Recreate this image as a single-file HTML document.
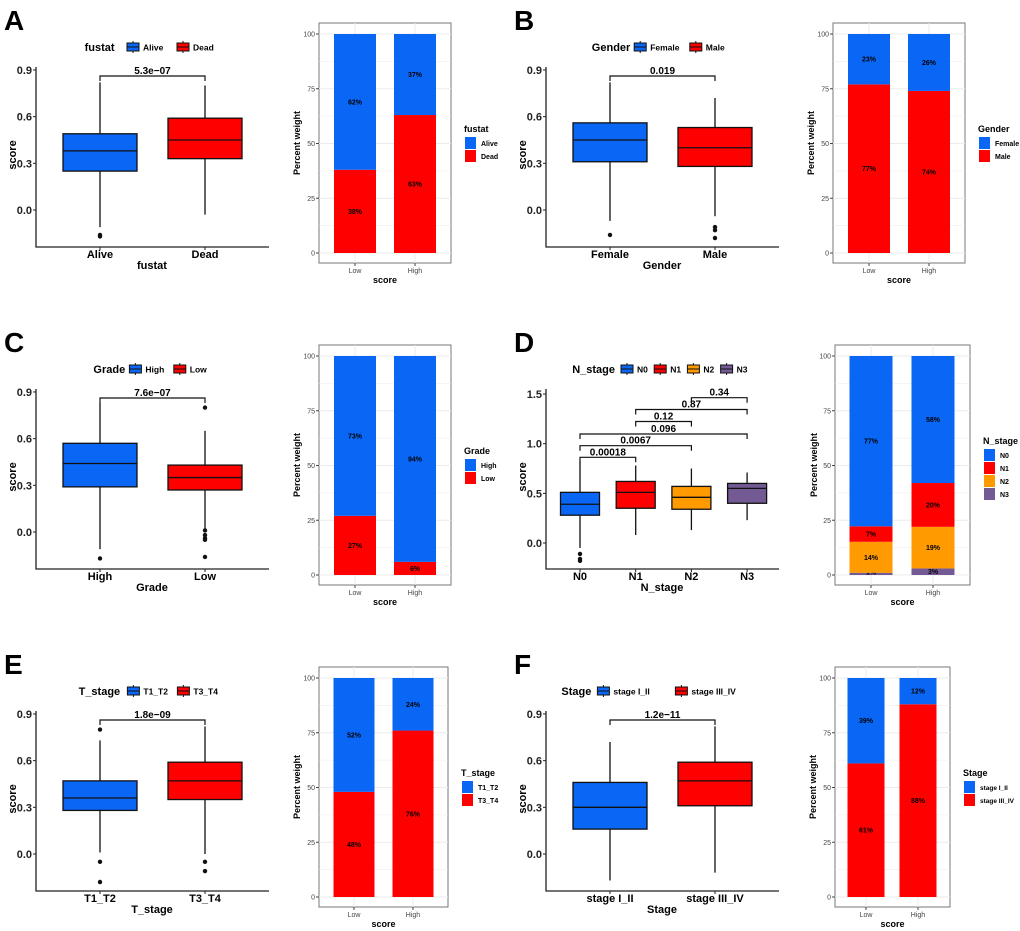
<!DOCTYPE html>
<html><head><meta charset="utf-8"><style>
body{margin:0;background:#fff;}
svg{display:block;font-family:"Liberation Sans",Arial,sans-serif;}
</style></head><body>
<svg id="fig" width="1020" height="931" viewBox="0 0 1020 931"></svg>
<script>
const panelLetters=["A","B","C","D","E","F"];
const varNames=["fustat","Gender","Grade","N_stage","T_stage","Stage"];
const groupNames=[["Alive","Dead"],["Female","Male"],["High","Low"],["N0","N1","N2","N3"],["T1_T2","T3_T4"],["stage I_II","stage III_IV"]];
// box stats: [whiskerLow, q1, median, q3, whiskerHigh]
const boxStats=[
 [[-0.11,0.25,0.38,0.49,0.82],[-0.03,0.33,0.45,0.59,0.80]],
 [[-0.07,0.31,0.45,0.56,0.82],[-0.04,0.28,0.40,0.53,0.72]],
 [[-0.11,0.29,0.44,0.57,0.83],[0.02,0.27,0.35,0.43,0.65]],
 [[-0.05,0.28,0.39,0.51,0.82],[0.08,0.35,0.51,0.62,0.78],[0.13,0.34,0.46,0.57,0.75],[0.23,0.40,0.55,0.60,0.71]],
 [[0.01,0.28,0.36,0.47,0.73],[0.00,0.35,0.47,0.59,0.82]],
 [[-0.17,0.16,0.30,0.46,0.72],[-0.12,0.31,0.47,0.59,0.82]]
];
const outliers=[
 [[-0.16,-0.17],[]],
 [[-0.16],[-0.11,-0.13,-0.18]],
 [[-0.17],[0.80,0.01,-0.02,-0.04,-0.05,-0.16]],
 [[-0.11,-0.16,-0.18],[],[],[]],
 [[0.80,-0.05,-0.18],[-0.05,-0.11]],
 [[],[]]
];
const pLabels=[["5.3e−07"],["0.019"],["7.6e−07"],["0.00018","0.0067","0.096","0.12","0.87","0.34"],["1.8e−09"],["1.2e−11"]];
const dPairs=[[0,1],[0,2],[0,3],[1,2],[1,3],[2,3]];
// stacked percentages, order = groupNames order (top of stack first)
const pctLow=[[62,38],[23,77],[73,27],[77,7,14,1],[52,48],[39,61]];
const pctHigh=[[37,63],[26,74],[94,6],[58,20,19,3],[24,76],[12,88]];
const boxTicks=[0,0.3,0.6,0.9];
const dTicks=[0,0.5,1.0,1.5];
const pctTicks=[0,25,50,75,100];
const barCats=["Low","High"];
const colors=["#0a66f5","#ff0000","#ff9a00","#735a95"];
// bar panel layout: [left,right,centerLow,centerHigh,barWidth,legendX,yTitleX]
const barLayout=[
 [319,451,355,415,42,464,297],
 [323,455,359,419,42,468,301],
 [319,451,355,415,42,464,297],
 [325,460,361,423,43,473,304],
 [319,448,354,413,41,461,297],
 [325,440,356,408,37,453,303]
];

const NS="http://www.w3.org/2000/svg";
const svg=document.getElementById('fig');
function el(tag,attrs,parent,text){const e=document.createElementNS(NS,tag);for(const k in attrs)e.setAttribute(k,attrs[k]);if(text!==undefined)e.textContent=text;(parent||svg).appendChild(e);return e;}
const origins=[[0,0],[510,0],[0,322],[510,322],[0,644],[510,644]];

for(let p=0;p<6;p++){
 const [ox,oy]=origins[p];
 const g=el('g',{transform:`translate(${ox},${oy})`});
 
 
 const t=el('text',{x:4,y:30,'font-size':28,'font-weight':'bold'},g,panelLetters[p]);
 
 const isD=p===3;
 const n=groupNames[p].length;
 // ---- box plot ----
 const bp=el('g',{},g);
 
 const y0=isD?221:210, k=isD?99.3:155.6;
 const Y=v=>y0-v*k;
 const cx=i=> isD?70+i*55.7:100+i*105;
 const bw=isD?39:74;
 el('line',{x1:36,y1:67,x2:36,y2:247.5,stroke:'#222','stroke-width':1.3},bp);
 el('line',{x1:35.5,y1:247,x2:269,y2:247,stroke:'#222','stroke-width':1.3},bp);
 const ticks=isD?dTicks:boxTicks;
 ticks.forEach(v=>{el('line',{x1:33,y1:Y(v),x2:36,y2:Y(v),stroke:'#222'},bp);
  const tl=el('text',{x:32,y:Y(v)+4,'font-size':11,'font-weight':'bold','text-anchor':'end',fill:'#222'},bp,v.toFixed(1));
  });
 const yt=el('text',{transform:'translate(16,155) rotate(-90)','font-size':11,'font-weight':'bold','text-anchor':'middle'},bp,'score');
 
 const xt=el('text',{x:152,y:269,'font-size':11,'font-weight':'bold','text-anchor':'middle'},bp,varNames[p]);
 
 for(let i=0;i<n;i++){
  const s=boxStats[p][i],x=cx(i);
  const bg=el('g',{},bp);
  
  
  el('line',{x1:x,y1:Y(s[0]),x2:x,y2:Y(s[4]),stroke:'#111','stroke-width':1.3},bg);
  el('rect',{x:x-bw/2,y:Y(s[3]),width:bw,height:Y(s[1])-Y(s[3]),fill:colors[i],stroke:'#111','stroke-width':1.3},bg);
  el('line',{x1:x-bw/2,y1:Y(s[2]),x2:x+bw/2,y2:Y(s[2]),stroke:'#111','stroke-width':1.3},bg);
  outliers[p][i].forEach(v=>el('circle',{cx:x,cy:Y(v),r:2.2,fill:'#111'},bg));
  el('line',{x1:x,y1:247,x2:x,y2:250,stroke:'#222'},bp);
  const xl=el('text',{x:x,y:258,'font-size':11,'font-weight':'bold','text-anchor':'middle'},bp,groupNames[p][i]);
  
 }
 const pairs=isD?dPairs:[[0,1]];
 const bys=isD?[135.3,123.7,112,99.5,87.5,75.7]:[76];
 pairs.forEach((pr,j)=>{
  const yb=bys[j],x1=cx(pr[0]),x2=cx(pr[1]);
  const sg=el('g',{},bp);
  
  el('path',{d:`M${x1},${yb+5}V${yb}H${x2}V${yb+5}`,fill:'none',stroke:'#111','stroke-width':1.2},sg);
  el('text',{x:(x1+x2)/2,y:yb-2,'font-size':10,'font-weight':'bold','text-anchor':'middle'},sg,pLabels[p][j]);
 });
 // legend
 const lg=el('g',{},bp);
 
 const tw=s=>s.length*(s===varNames[p]?6.4:5.6);
 let total=tw(varNames[p])+4;groupNames[p].forEach(s=>total+=16+tw(s)+6);
 let lx=153-total/2;
 el('text',{x:lx,y:51,'font-size':11,'font-weight':'bold'},lg,varNames[p]);lx+=tw(varNames[p])+4;
 groupNames[p].forEach((s,i)=>{
  el('line',{x1:lx+6,y1:41,x2:lx+6,y2:53,stroke:'#111'},lg);
  el('rect',{x:lx,y:43,width:12,height:8,fill:colors[i],stroke:'#111','stroke-width':1},lg);
  el('line',{x1:lx,y1:47,x2:lx+12,y2:47,stroke:'#111'},lg);
  lx+=16;
  el('text',{x:lx,y:50.5,'font-size':8.5,'font-weight':'bold'},lg,s);lx+=tw(s)+6;
 });
 // ---- stacked bar ----
 const [PL,PR,c0,c1,BW,LX,YTX]=barLayout[p];
 const bc=el('g',{},g);
 
 const PT=23,PB=263;
 const PY=v=>253-v*2.19;
 el('rect',{x:PL,y:PT,width:PR-PL,height:PB-PT,fill:'#fff',stroke:'#777','stroke-width':1},bc);
 for(let v=0;v<=100;v+=12.5)el('line',{x1:PL,y1:PY(v),x2:PR,y2:PY(v),stroke:'#ebebeb','stroke-width':(v%25===0)?1:0.6},bc);
 const bx=i=>i===0?c0:c1;
 barCats.forEach((c,i)=>el('line',{x1:bx(i),y1:PT,x2:bx(i),y2:PB,stroke:'#ebebeb'},bc));
 pctTicks.forEach(v=>{el('line',{x1:PL-3,y1:PY(v),x2:PL,y2:PY(v),stroke:'#444'},bc);
  el('text',{x:PL-4,y:PY(v)+2.5,'font-size':7,'text-anchor':'end',fill:'#444'},bc,String(v));});
 [pctLow[p],pctHigh[p]].forEach((arr,i)=>{
  const sum=arr.reduce((a,b)=>a+b,0);
  let cum=0;
  for(let j=arr.length-1;j>=0;j--){
   const v=arr[j]/sum*100;
   const r=el('rect',{x:bx(i)-BW/2,y:PY(cum+v),width:BW,height:v*2.19,fill:colors[j]},bc);
   
   
   const ly=PY(cum+v/2)+2.5;
   el('text',{x:bx(i),y:Math.min(ly,PY(0)-0.5),'font-size':7,'font-weight':'bold','text-anchor':'middle'},bc,arr[j]+'%');
   cum+=v;
  }
  el('line',{x1:bx(i),y1:PB,x2:bx(i),y2:PB+3,stroke:'#444'},bc);
  el('text',{x:bx(i),y:273,'font-size':7,'text-anchor':'middle',fill:'#444'},bc,barCats[i]);
 });
 el('text',{x:(PL+PR)/2,y:283,'font-size':9,'font-weight':'bold','text-anchor':'middle'},bc,'score');
 el('text',{transform:`translate(${YTX+3},143) rotate(-90)`,'font-size':9,'font-weight':'bold','text-anchor':'middle'},bc,'Percent weight');
 const bl=el('g',{},bc);
 
 const lyy=isD?118:128;
 el('text',{x:LX,y:lyy+4,'font-size':9,'font-weight':'bold'},bl,varNames[p]);
 groupNames[p].forEach((s,i)=>{
  el('rect',{x:LX+1,y:lyy+9+i*13,width:11,height:12,fill:colors[i]},bl);
  el('text',{x:LX+17,y:lyy+18+i*13,'font-size':p===5?6.5:7,'font-weight':'bold'},bl,s);
 });
}
</script>
</body></html>
